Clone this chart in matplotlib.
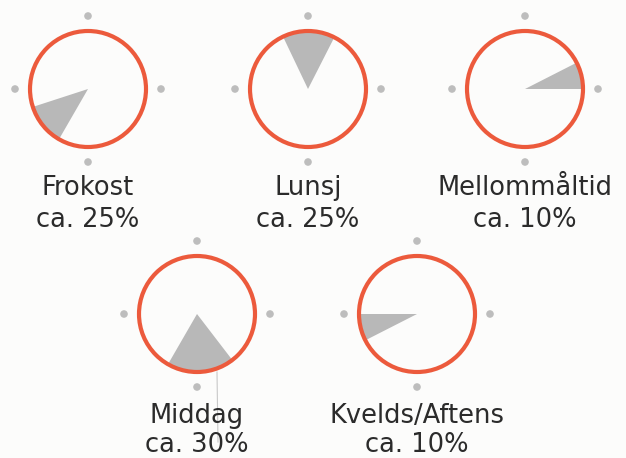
import matplotlib.pyplot as plt
from matplotlib.patches import Circle, Wedge

# meals, share of daily intake and the clock time span shown as a wedge
meals = ['Frokost', 'Lunsj', 'Mellommåltid', 'Middag', 'Kvelds/Aftens']
shares = [25, 25, 10, 30, 10]
start_hour = [7.0, 11.15, 14.1, 16.75, 20.1]
end_hour = [8.4, 12.9, 15.0, 19.0, 21.0]

# layout (pixel positions of clock centres and label baselines)
centers = [(88, 89), (308, 89), (525, 89), (197, 314), (417, 314)]
name_base = [195, 195, 195, 423, 423]
share_base = [227, 227, 227, 452, 452]
R = 58
DOT_R = 73

ring_col = '#ec5a3c'
wedge_col = '#b8b8b8'
dot_col = '#bdbdbd'
text_col = '#2b2b2b'


def hour_to_angle(h):
    # 12 o'clock up, clockwise
    return (90 - 30 * (h % 12)) % 360


fig = plt.figure(figsize=(6.26, 4.58), dpi=100)
fig.patch.set_facecolor('#fcfcfb')
ax = fig.add_axes([0, 0, 1, 1])
ax.set_xlim(0, 626)
ax.set_ylim(458, 0)
ax.set_aspect('equal')
ax.axis('off')

for i, (name, share) in enumerate(zip(meals, shares)):
    cx, cy = centers[i]
    a0 = hour_to_angle(start_hour[i])
    a1 = hour_to_angle(end_hour[i])
    # y axis is flipped, so mirror angles
    ax.add_patch(Wedge((cx, cy), R, -a0, -a1, facecolor=wedge_col,
                       edgecolor='none', zorder=2))
    ax.add_patch(Circle((cx, cy), R, facecolor='none', edgecolor=ring_col,
                        lw=3.0, zorder=3))
    for dx, dy in [(0, -DOT_R), (0, DOT_R), (-DOT_R, 0), (DOT_R, 0)]:
        ax.add_patch(Circle((cx + dx, cy + dy), 3.8, facecolor=dot_col,
                            edgecolor='none', zorder=2))
    ax.text(cx, name_base[i], name, ha='center', va='baseline', fontsize=18.5,
            family='DejaVu Sans', color=text_col, zorder=4)
    ax.text(cx, share_base[i], f'ca. {share}%', ha='center', va='baseline',
            fontsize=18.5, family='DejaVu Sans', color=text_col, zorder=4)

# thin leader line under Middag
ax.plot([217, 218], [372, 442], color='#c8c8c8', lw=0.8, zorder=1)

fig.savefig('out.png', dpi=100, facecolor=fig.get_facecolor())
